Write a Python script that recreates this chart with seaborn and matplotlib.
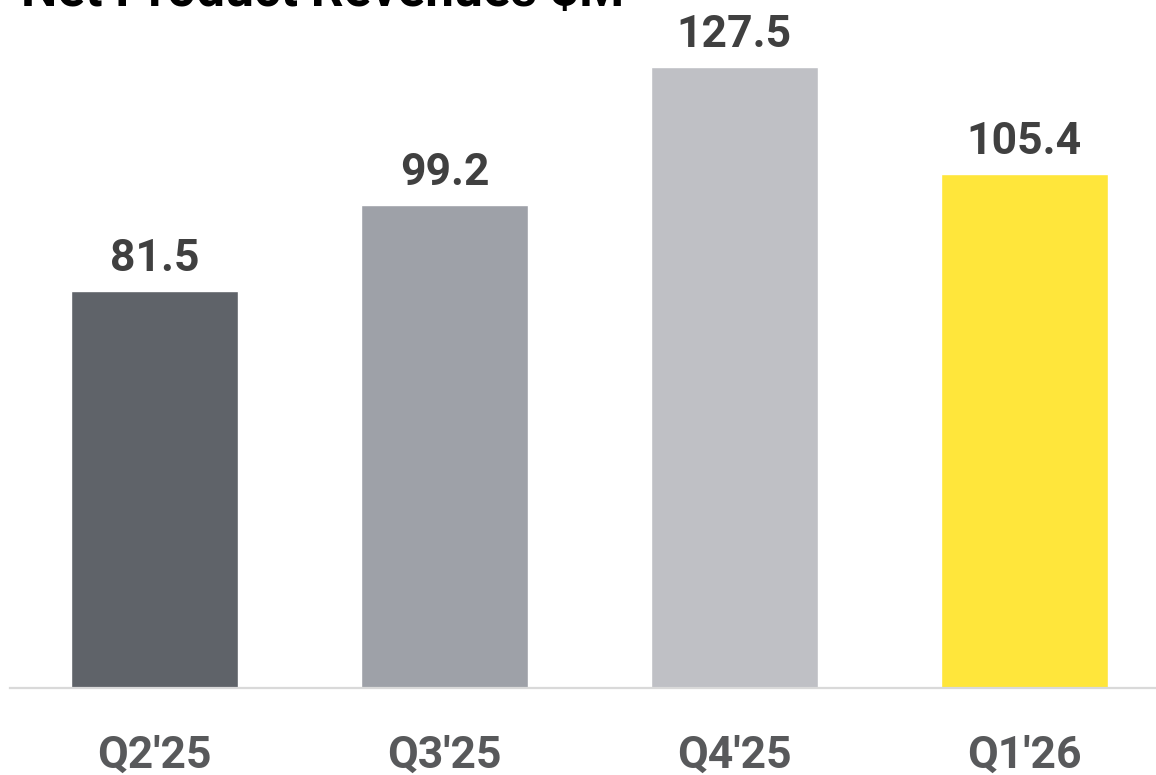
import matplotlib
matplotlib.use("Agg")
import matplotlib.pyplot as plt
import seaborn as sns
import pandas as pd

quarters = ["Q2'25", "Q3'25", "Q4'25", "Q1'26"]
revenues = [81.5, 99.2, 127.5, 105.4]
bar_colors = ["#5f6369", "#9ea1a8", "#bfc0c5", "#ffe63b"]
title_text = "Net Product Revenues \\$M"

sns.set_theme(style="white")
plt.rcParams['font.family'] = ['Roboto', 'DejaVu Sans']

df = pd.DataFrame({"quarter": quarters, "revenue": revenues})

fig = plt.figure(figsize=(11.56, 7.75), dpi=100)
ax = fig.add_axes([10/1156, 87/775, 1146/1156, 688/775])

sns.barplot(data=df, x="quarter", y="revenue", hue="quarter",
            palette=bar_colors, width=0.576, legend=False, ax=ax,
            saturation=1)

ax.set_xlim(-0.498, 3.454)
ax.set_ylim(0, 141.2)

for i, v in enumerate(revenues):
    ax.annotate(f"{v:.1f}", xy=(i, v), xytext=(0, 14.4), textcoords="offset points",
                ha="center", va="baseline", fontsize=32, fontweight="bold",
                color="#404040")

for s in ["top", "right", "left"]:
    ax.spines[s].set_visible(False)
ax.spines["bottom"].set_color("#d9d9d9")
ax.spines["bottom"].set_linewidth(1.6)
ax.set_yticks([])
ax.set_xlabel("")
ax.set_ylabel("")
ax.tick_params(axis="x", length=0, pad=34, labelsize=32, labelcolor="#58595b")
for lab in ax.get_xticklabels():
    lab.set_fontweight("bold")

fig.text(21/1156, 1 - 6/775, title_text, ha="left", va="baseline",
         fontsize=37, fontweight="bold", color="#000000")

fig.savefig("out.png", dpi=100)
